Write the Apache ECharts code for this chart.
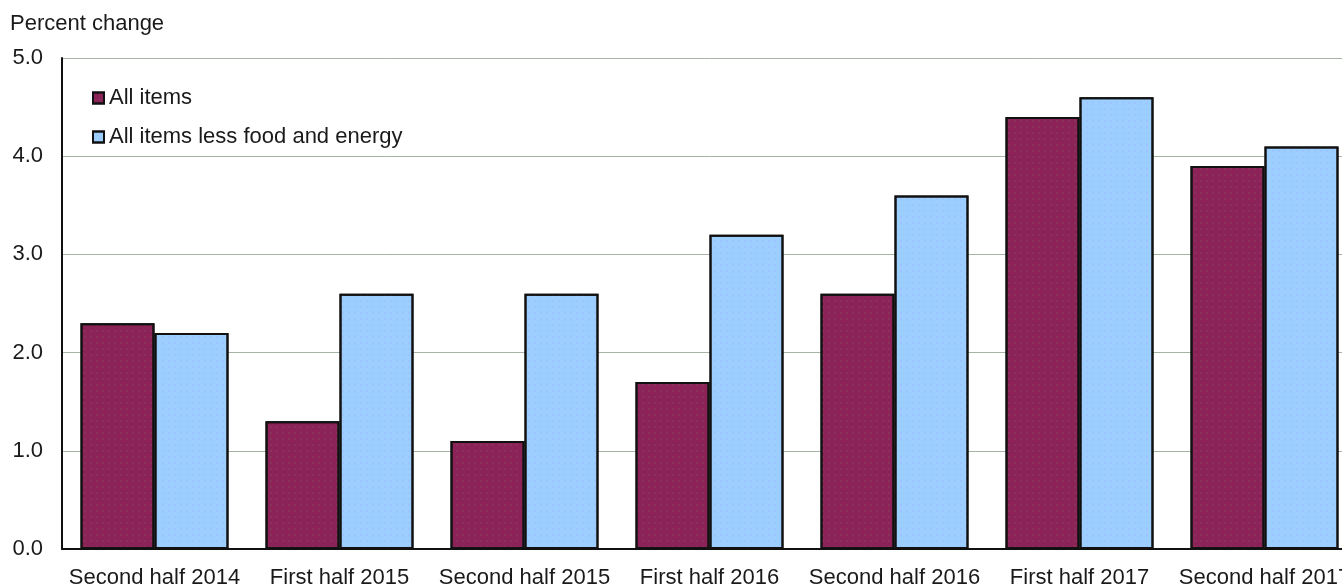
<!DOCTYPE html>
<html>
<head>
<meta charset="utf-8">
<script src="https://cdn.jsdelivr.net/npm/echarts@6/dist/echarts.min.js"></script>
<style>
  html, body { margin: 0; padding: 0; background: #fff; overflow: hidden; }
  #wrap { width: 1342px; height: 586px; overflow: hidden; }
  /* drawing surface runs a little past the right edge, so the last bar pair is cut */
  #chart { width: 1362px; height: 586px; }
</style>
</head>
<body>
<div id="wrap"><div id="chart"></div></div>
<script>
// Half-year periods on the category axis
const categories = [
  'Second half 2014', 'First half 2015', 'Second half 2015', 'First half 2016',
  'Second half 2016', 'First half 2017', 'Second half 2017'
];
// Percent change, annualized
const allItems = [2.3, 1.3, 1.1, 1.7, 2.6, 4.4, 3.9];
const coreItems = [2.2, 2.6, 2.6, 3.2, 3.6, 4.6, 4.1];
const seriesNames = ['All items', 'All items less food and energy'];
const yTicks = { min: 0, max: 5, interval: 1 };

const FONT = '"Liberation Sans", Arial, sans-serif';
const FS = 22;
const TEXT = '#1a1a1a';

function stipple(color) {
  return {
    symbol: 'rect',
    symbolSize: 0.6,
    dashArrayX: [[2, 4]],
    dashArrayY: [2, 4],
    rotation: 0,
    color: color
  };
}

const chart = echarts.init(document.getElementById('chart'), null, { renderer: 'canvas' });
chart.setOption({
  animation: false,
  backgroundColor: '#ffffff',
  title: {
    text: 'Percent change',
    left: 5, top: 8,
    textStyle: { fontFamily: FONT, fontSize: FS, fontWeight: 'normal', color: TEXT }
  },
  legend: {
    orient: 'vertical',
    left: 87, top: 82,
    itemWidth: 11, itemHeight: 11,
    itemGap: 17,
    icon: 'rect',
    textStyle: { fontFamily: FONT, fontSize: FS, color: TEXT },
    data: seriesNames
  },
  grid: {
    left: 62, right: 5, top: 58, bottom: 37,
    containLabel: false,
    outerBoundsMode: 'none'
  },
  xAxis: {
    type: 'category',
    data: categories,
    axisLine: { lineStyle: { color: '#111', width: 2 } },
    axisTick: { show: false },
    axisLabel: { margin: 18, fontFamily: FONT, fontSize: FS, color: TEXT, interval: 0 }
  },
  yAxis: {
    type: 'value',
    min: yTicks.min, max: yTicks.max, interval: yTicks.interval,
    axisLine: { show: true, lineStyle: { color: '#111', width: 2 } },
    axisTick: { show: false },
    axisLabel: {
      margin: 19, fontFamily: FONT, fontSize: FS, color: TEXT,
      formatter: v => v.toFixed(1)
    },
    splitLine: { lineStyle: { color: '#a7b4a5', width: 1 } }
  },
  series: [
    {
      name: seriesNames[0],
      type: 'bar',
      data: allItems,
      barGap: '0%',
      barCategoryGap: '20%',
      itemStyle: {
        color: '#8c2358',
        borderColor: '#111',
        borderWidth: 2,
        decal: stipple('rgba(130,125,100,0.6)')
      }
    },
    {
      name: seriesNames[1],
      type: 'bar',
      data: coreItems,
      barGap: '0%',
      barCategoryGap: '20%',
      itemStyle: {
        color: '#9ccfff',
        borderColor: '#111',
        borderWidth: 2,
        decal: stipple('rgba(175,150,255,0.6)')
      }
    }
  ]
});
</script>
</body>
</html>
